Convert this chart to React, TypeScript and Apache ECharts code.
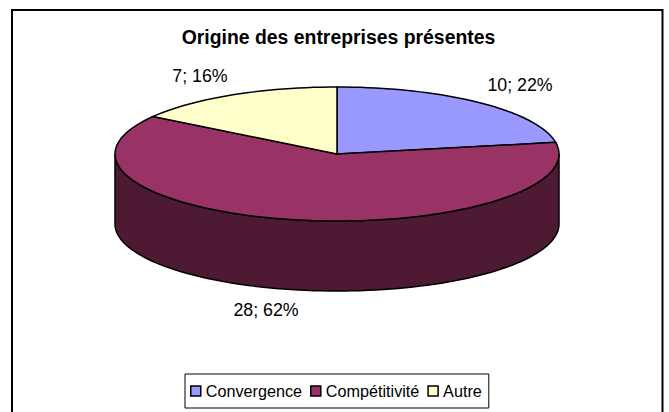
import React, { useEffect, useRef } from "react";
import * as echarts from "echarts";

const categories = ["Convergence", "Compétitivité", "Autre"];
const values = [10, 28, 7];
const percents = [22, 62, 16];
const colors = ["#9999FF", "#993366", "#FFFFCC"];
const sideColors = ["#4D4D80", "#4D1933", "#808066"];
const labelPositions = [
  [520, 85],
  [266, 310],
  [200, 76],
];

const CX = 337;
const CY = 154;
const RX = 222;
const RY = 67;
const DEPTH = 70;
const TOTAL = values.reduce((a, b) => a + b, 0);

const pt = (deg: number, dy = 0) => {
  const r = (deg * Math.PI) / 180;
  return [CX + RX * Math.sin(r), CY - RY * Math.cos(r) + dy];
};

const arc = (a: number, b: number, dy = 0) => {
  const out: number[][] = [];
  const n = Math.max(2, Math.ceil(Math.abs(b - a) / 2));
  for (let i = 0; i <= n; i++) out.push(pt(a + ((b - a) * i) / n, dy));
  return out;
};

const sliceSeries = (idx: number) => {
  const before = values.slice(0, idx).reduce((a, b) => a + b, 0);
  return {
    type: "custom",
    name: categories[idx],
    coordinateSystem: "none",
    itemStyle: { color: colors[idx], borderColor: "#000", borderWidth: 1 },
    silent: true,
    data: [[values[idx], before]],
    renderItem: (_p: any, api: any) => {
      const v = api.value(0);
      const s = api.value(1);
      const a0 = (s / TOTAL) * 360;
      const a1 = ((s + v) / TOTAL) * 360;
      const children: any[] = [];
      const f0 = Math.max(a0, 90);
      const f1 = Math.min(a1, 270);
      if (f1 > f0) {
        const top = arc(f0, f1);
        const bottom = arc(f1, f0, DEPTH);
        children.push({
          type: "polygon",
          shape: { points: [...top, ...bottom] },
          style: { fill: sideColors[idx], stroke: "#000", lineWidth: 1.5 },
        });
      }
      children.push({
        type: "polygon",
        shape: { points: [[CX, CY], ...arc(a0, a1)] },
        style: { fill: colors[idx], stroke: "#000", lineWidth: 1.5 },
      });
      children.push({
        type: "text",
        style: {
          x: labelPositions[idx][0],
          y: labelPositions[idx][1],
          text: `${v}; ${percents[idx]}%`,
          fill: "#000",
          font: '17.8px "Liberation Sans"',
          align: "center",
          verticalAlign: "middle",
        },
      });
      return { type: "group", children };
    },
  };
};

export default function App() {
  const ref = useRef<HTMLDivElement>(null);
  useEffect(() => {
    const chart = echarts.init(ref.current!, null, { renderer: "svg" });
    chart.setOption({
      animation: false,
      backgroundColor: "#fff",
      title: {
        text: "Origine des entreprises présentes",
        left: 333.5,
        top: 22,
        textAlign: "center",
        textStyle: {
          fontFamily: "Liberation Sans",
          fontWeight: "bold",
          fontSize: 19.4,
          color: "#000",
        },
      },
      legend: {
        data: categories,
        left: 185,
        top: 374,
        orient: "horizontal",
        icon: "rect",
        itemWidth: 10,
        itemHeight: 10,
        itemGap: 8,
        padding: [9, 7, 9, 5],
        borderColor: "#000",
        borderWidth: 1,
        selectedMode: false,
        textStyle: { fontFamily: "Liberation Sans", fontSize: 16.2, color: "#000" },
        itemStyle: { borderColor: "#000", borderWidth: 1.5 },
      },
      graphic: [
        {
          type: "rect",
          z: -1,
          silent: true,
          shape: { x: 12, y: 10, width: 650.5, height: 420 },
          style: { fill: "#fff", stroke: "#000", lineWidth: 2 },
        },
      ],
      series: categories.map((_, i) => sliceSeries(i)),
    });
    return () => chart.dispose();
  }, []);
  return (
    <div
      ref={ref}
      style={{ position: "absolute", left: 0, top: 0, width: 669, height: 412 }}
    />
  );
}
